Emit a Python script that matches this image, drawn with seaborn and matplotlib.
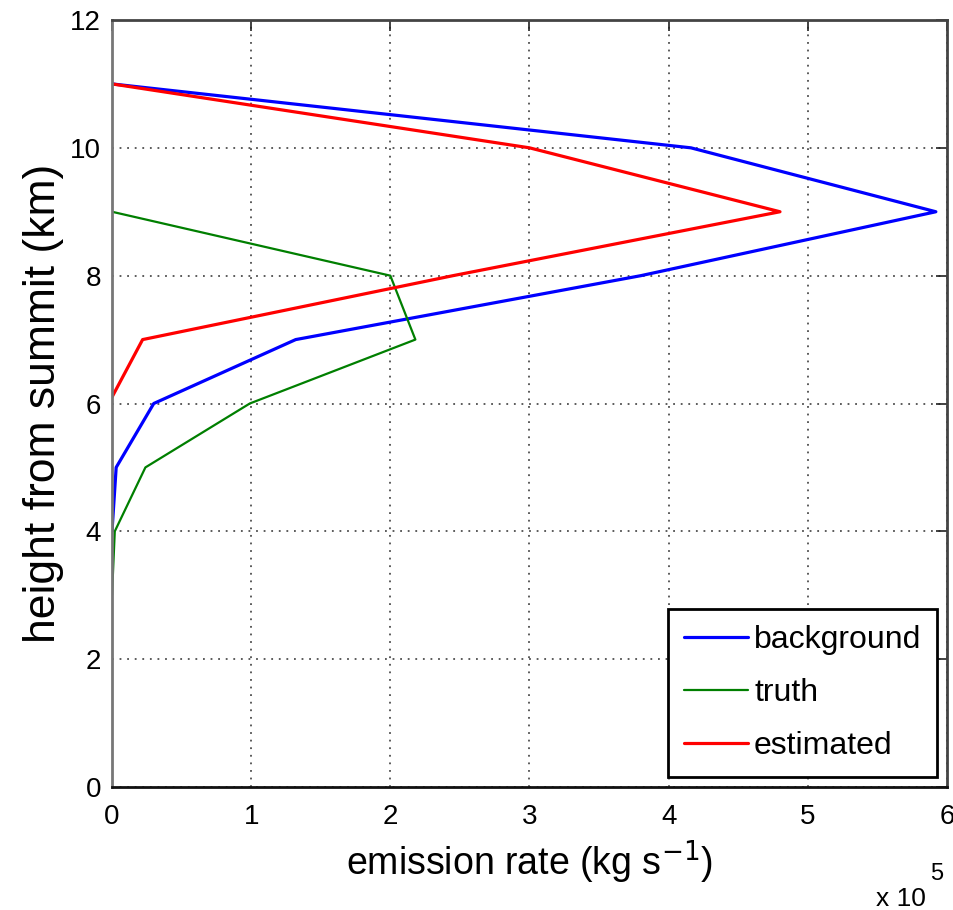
import matplotlib
matplotlib.use("Agg")
import matplotlib.pyplot as plt
import seaborn as sns
import pandas as pd

# Emission rate profiles (units of 1e5 kg/s) against height above summit (km)
background_height = [4, 5, 6, 7, 8, 9, 10, 11]
background_rate = [0.0, 0.03, 0.30, 1.32, 3.80, 5.92, 4.16, 0.0]

truth_height = [3, 4, 5, 6, 7, 8, 9]
truth_rate = [0.0, 0.02, 0.24, 0.99, 2.18, 2.00, 0.0]

estimated_height = [6.1, 7, 8, 9, 10, 11]
estimated_rate = [0.0, 0.22, 2.45, 4.80, 3.00, 0.0]

series_names = ["background", "truth", "estimated"]
series_colors = ["#0000ff", "#007f00", "#ff0000"]
series_widths = [2.3, 1.6, 2.3]

x_ticks = [0, 1, 2, 3, 4, 5, 6]
y_ticks = [0, 2, 4, 6, 8, 10, 12]

frames = []
for name, h, r in zip(series_names,
                      [background_height, truth_height, estimated_height],
                      [background_rate, truth_rate, estimated_rate]):
    frames.append(pd.DataFrame({"height": h, "rate": r, "series": name}))
df = pd.concat(frames, ignore_index=True)

sns.set_style("white")
plt.rcParams["font.family"] = ["Liberation Sans", "DejaVu Sans"]
plt.rcParams["text.color"] = "black"
plt.rcParams["axes.labelcolor"] = "black"

fig = plt.figure(figsize=(9.54, 9.10), dpi=100)
ax = fig.add_axes([112 / 954, 1 - 787 / 910, (947 - 112) / 954, (787 - 20) / 910])

for name, color, lw in zip(series_names, series_colors, series_widths):
    sub = df[df["series"] == name]
    sns.lineplot(data=sub, x="rate", y="height", sort=False, estimator=None,
                 color=color, linewidth=lw, label=name, ax=ax)

ax.set_xlim(0, 6)
ax.set_ylim(0, 12)
ax.set_xticks(x_ticks)
ax.set_yticks(y_ticks)
ax.set_xticklabels([str(t) for t in x_ticks])
ax.set_yticklabels([str(t) for t in y_ticks])
ax.tick_params(direction="in", length=8, width=1.2, labelsize=20,
               top=True, right=True, colors="#222222", labelcolor="black")
ax.tick_params(axis="x", pad=12)
ax.tick_params(axis="y", pad=8)

ax.grid(True, color="#222222", linestyle=(0, (1, 3.2)), linewidth=1.3, alpha=0.8)
ax.set_axisbelow(True)

ax.spines["left"].set_color("#777777")
ax.spines["top"].set_color("#444444")
ax.spines["right"].set_color("#444444")
ax.spines["bottom"].set_color("#111111")
for s in ax.spines.values():
    s.set_linewidth(2.0)
    s.set_visible(True)

ax.set_xlabel(r"emission rate (kg s$^{-1}$)", fontsize=27, labelpad=6)
ax.set_ylabel("height from summit (km)", fontsize=32, labelpad=4)

fig.text(876 / 954, 1 - 906 / 910, "x 10", fontsize=19, ha="left", va="baseline")
fig.text(930 / 954, 1 - 880 / 910, "5", fontsize=17, ha="left", va="baseline")

leg = ax.legend(loc="lower right", bbox_to_anchor=(1.0, 0.0), fontsize=23,
                frameon=True, fancybox=False, handlelength=2.0,
                labelspacing=0.72, borderpad=0.5, handletextpad=0.2,
                borderaxespad=0.3)
leg.get_frame().set_edgecolor("black")
leg.get_frame().set_linewidth(2.0)
leg.get_frame().set_alpha(1)

fig.savefig("out.png", dpi=100)
